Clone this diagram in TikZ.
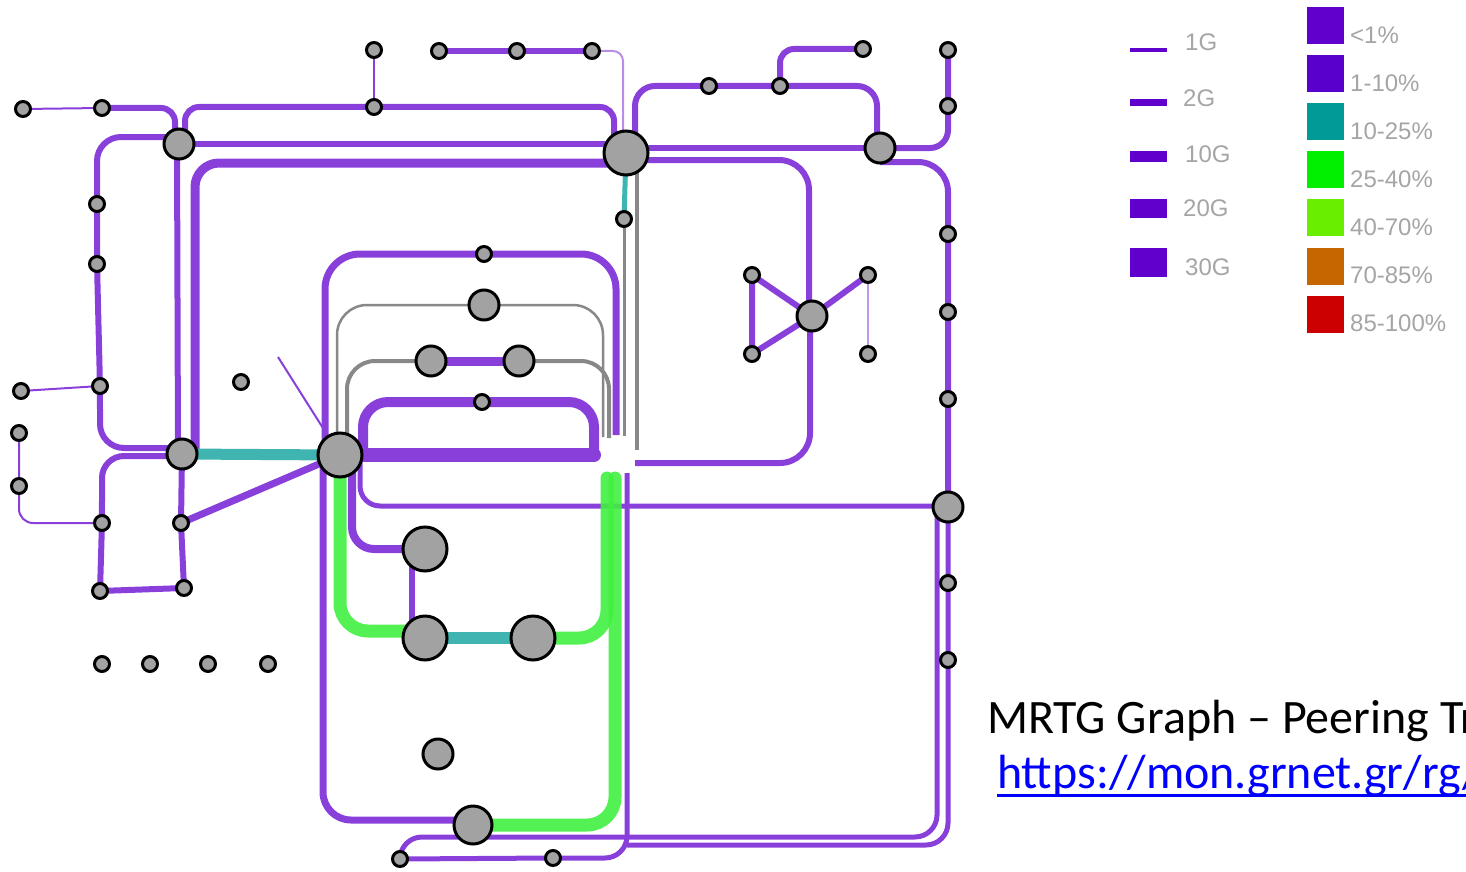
\documentclass[tikz,border=0pt]{standalone}
\usepackage{fontspec}
\setmainfont{Liberation Sans}
\newfontfamily\calib{Carlito}
\usetikzlibrary{calc}
\pgfdeclarelayer{bg}
\pgfsetlayers{bg,main}
\definecolor{lp}{RGB}{137,64,219}
\definecolor{tl}{RGB}{64,180,176}
\definecolor{gnl}{RGB}{64,240,64}
\definecolor{gyl}{RGB}{136,136,136}
\definecolor{nf}{RGB}{162,162,162}
\definecolor{lgp}{RGB}{96,0,204}
\definecolor{lgp2}{RGB}{90,0,204}
\definecolor{lgt}{RGB}{0,155,150}
\definecolor{lgg}{RGB}{0,240,0}
\definecolor{lgl}{RGB}{106,238,0}
\definecolor{lgo}{RGB}{198,102,0}
\definecolor{lgr}{RGB}{204,0,0}
\definecolor{legtext}{RGB}{165,165,165}
\definecolor{linkblue}{RGB}{0,0,255}
\begin{document}
\begin{tikzpicture}[x=1pt,y=-1pt,
  sn/.style={circle,draw=black,fill=nf,line width=3pt,minimum size=15pt,inner sep=0pt},
  mn/.style={circle,draw=black,fill=nf,line width=3pt,minimum size=30pt,inner sep=0pt},
  bn/.style={circle,draw=black,fill=nf,line width=3pt,minimum size=44pt,inner sep=0pt},
  pl/.style={draw=lp,line width=#1},
  thin/.style={draw=lp,line width=2pt},
  gline/.style={draw=gyl,line width=#1},
  grn/.style={draw=gnl,line width=13pt,line cap=round,opacity=0.9},
  tline/.style={draw=tl,line width=#1},
  bar/.style={fill=#1,draw=none,inner sep=0pt,minimum width=37pt},
  sq/.style={fill=#1,draw=none,inner sep=0pt,minimum width=37pt,minimum height=37pt},
  lt/.style={anchor=west,inner sep=0pt,text=legtext,font=\fontsize{24}{24}\selectfont}
]
\useasboundingbox (0,0) rectangle (1466,872);
\clip (0,0) rectangle (1466,872);

% ---------- nodes ----------
\node[sn] (n1) at (23,109) {};
\node[sn] (n2) at (102,108) {};
\node[sn] (n3) at (374,50) {};
\node[sn] (n4) at (374,107) {};
\node[sn] (n5) at (439,51) {};
\node[sn] (n6) at (517,51) {};
\node[sn] (n7) at (592,51) {};
\node[sn] (n8) at (709,86) {};
\node[sn] (n9) at (780,86) {};
\node[sn] (n10) at (863,49) {};
\node[sn] (n11) at (948,50) {};
\node[sn] (n12) at (948,106) {};
\node[sn] (n13) at (97,204) {};
\node[sn] (n14) at (97,264) {};
\node[sn] (n15) at (624,219) {};
\node[sn] (n16) at (484,254) {};
\node[sn] (n17) at (948,234) {};
\node[sn] (n18) at (948,312) {};
\node[sn] (n19) at (948,399) {};
\node[sn] (n20) at (752,275) {};
\node[sn] (n21) at (868,275) {};
\node[sn] (n22) at (752,354) {};
\node[sn] (n23) at (868,354) {};
\node[sn] (n24) at (241,382) {};
\node[sn] (n25) at (21,391) {};
\node[sn] (n26) at (100,386) {};
\node[sn] (n27) at (19,433) {};
\node[sn] (n28) at (19,486) {};
\node[sn] (n29) at (102,523) {};
\node[sn] (n30) at (181,523) {};
\node[sn] (n31) at (100,591) {};
\node[sn] (n32) at (184,588) {};
\node[sn] (n33) at (482,402) {};
\node[sn] (n34) at (948,583) {};
\node[sn] (n35) at (948,660) {};
\node[sn] (d1) at (102,664) {};
\node[sn] (d2) at (150,664) {};
\node[sn] (d3) at (208,664) {};
\node[sn] (d4) at (268,664) {};
\node[sn] (n40) at (400,859) {};
\node[sn] (n41) at (553,858) {};

\node[mn] (B1) at (179,144) {};
\node[bn] (B2) at (626,153) {};
\node[mn] (B3) at (880,148) {};
\node[mn] (B4) at (484,305) {};
\node[mn] (B5) at (431,361) {};
\node[mn] (B6) at (519,361) {};
\node[mn] (B7) at (812,316) {};
\node[mn] (B8) at (182,454) {};
\node[bn] (B9) at (340,455) {};
\node[bn] (B10) at (425,549) {};
\node[bn] (B11) at (425,638) {};
\node[bn] (B12) at (533,638) {};
\node[mn] (B13) at (948,507) {};
\node[mn] (B14) at (438,754) {};
\node[circle,draw=black,fill=nf,line width=3pt,minimum size=38pt,inner sep=0pt] (B15) at (473,825) {};

\coordinate (hP) at (594,455);
\coordinate (hO) at (616,435);
\coordinate (hG1) at (603,437);
\coordinate (hG2) at (609,438);
\coordinate (hG3) at (624,436);
\coordinate (hG4) at (637,450);
\coordinate (hR) at (635,463);
\coordinate (hGr1) at (607,478);
\coordinate (hGr2) at (615,478);
\coordinate (hV) at (627,473);
\coordinate (bj) at (627,845);
\coordinate (dg) at (278,357);

% ---------- connectors ----------
\begin{pgfonlayer}{bg}
% left region
\draw[thin] (n1.center) -- (n2.center);
\draw[pl=6pt,rounded corners=14pt] (n2.center) -| ($(B1.center)+(-4,0)$);
\draw[pl=6pt,rounded corners=14pt] ($(B1.center)+(6,0)$) |- (n4.center) -| ($(B2.center)+(-12,0)$);
\draw[pl=6pt] (B1.center) -- (B2.center |- B1.center);
\draw[pl=9pt,rounded corners=24pt] ($(B2.center)+(0,10)$) -| ($(B8.center)+(13,0)$);
\draw[pl=6pt] ($(B1.center)+(-2,0)$) -- ($(B8.center)+(-4,0)$);
\draw[pl=6pt,rounded corners=24pt] ($(B1.center)+(0,-7)$) -| (n13.center) -- (n14.center) -- (n26.center) |- ($(B8.center)+(0,-6)$);
\draw[pl=6pt,rounded corners=22pt] ($(B8.center)+(0,2)$) -| (n29.center) -- (n31.center);
\draw[pl=6pt] (n31.center) -- (n32.center) -- (n30.center) -- (B8.center);
\draw[thin] (n25.center) -- (n26.center);
\draw[thin,rounded corners=14pt] (n27.center) -- (n28.center) |- (n29.center);
\draw[tline=11pt] (B8.center) -- (B9.center);
\draw[pl=7pt] (n30.center) -- (B9.center);
\draw[thin] (dg) -- (B9.center);

% top region
\draw[thin] (n3.center) -- (n4.center);
\draw[pl=6pt] (n5.center) -- (n6.center) -- (n7.center);
\draw[thin,opacity=0.6,rounded corners=10pt] (n7.center) -| ($(B2.center)+(-3,0)$);
\draw[pl=6pt,rounded corners=20pt] ($(B2.center)+(9,0)$) |- (n8.center) -- (n9.center) -| ($(B3.center)+(-3,0)$);
\draw[pl=6pt,rounded corners=14pt] (n9.center) |- (n10.center);
\draw[pl=6pt] (B2.center |- B3.center) -- (B3.center);
\draw[pl=6pt,rounded corners=18pt] (B3.center) -| (n12.center) -- (n11.center);
\draw[pl=6pt,rounded corners=30pt] ($(B2.center)+(0,7)$) -| ($(B7.center)+(-3,0)$);
\draw[pl=6pt,rounded corners=30pt] ($(B7.center)+(-2,0)$) |- (hR);
\draw[pl=6pt,rounded corners=30pt] ($(B3.center)+(0,14)$) -| (n17.center) -- (n18.center) -- (n19.center) -- (B13.center);
\draw[pl=6pt] (n20.center) -- (B7.center) -- (n22.center) -- (n20.center);
\draw[pl=6pt] (B7.center) -- (n21.center);
\draw[thin,opacity=0.55] (n21.center) -- (n23.center);
\draw[tline=5pt] (B2.center) -- (n15.center);
\draw[gline=3pt] (n15.center) -- (hG3);
\draw[gline=3.5pt] ($(B2.center)+(11,0)$) -- (hG4);

% centre region
\draw[pl=7pt,rounded corners=35pt] ($(B9.center)+(-15,0)$) |- (n16.center) -| (hO);
\draw[gline=2.5pt,rounded corners=30pt] ($(B9.center)+(-3,0)$) |- (B4.center) -| (hG1);
\draw[gline=4pt,rounded corners=28pt] ($(B9.center)+(7,0)$) |- (B5.center);
\draw[gline=4pt,rounded corners=28pt] (B6.center) -| (hG2);
\draw[pl=9pt] (B5.center) -- (B6.center);
\draw[pl=10pt,rounded corners=25pt] ($(B9.center)+(23,0)$) |- (n33.center) -| (hP);
\draw[pl=14pt,line cap=round] (B9.center) -- (hP);

% lower region
\draw[pl=5pt,rounded corners=20pt] ($(B9.center)+(20,0)$) |- ($(B13.center)+(0,-1)$);
\draw[pl=8pt,rounded corners=22pt] ($(B9.center)+(12,0)$) |- (B10.center);
\draw[pl=6pt] ($(B10.center)+(-13,0)$) -- ($(B11.center)+(-13,0)$);
\draw[pl=7pt,rounded corners=28pt] ($(B9.center)+(-17,0)$) |- ($(B15.center)+(0,-5)$);
\draw[pl=5pt,rounded corners=22pt] (n40.center) |- ($(B13.center)+(-11,330)$) -- ($(B13.center)+(-11,0)$);
\draw[pl=5pt,rounded corners=22pt] (B13.center) -- (n34.center) -- (n35.center) |- (bj);
\draw[pl=5pt,rounded corners=22pt] (hV) |- (n41.center) -- (n40.center);
\draw[grn,rounded corners=28pt] (B9.center) |- ($(B11.center)+(0,-7)$);
\draw[grn,rounded corners=28pt] (B12.center) -| (hGr1);
\draw[grn,rounded corners=28pt] (B15.center) -| (hGr2);
\draw[tline=12pt] (B11.center) -- (B12.center);
\end{pgfonlayer}

% ---------- legend ----------
\node[bar=lgp,minimum height=4pt] (lb1) at (1148.5,50) {};
\node[bar=lgp,minimum height=7pt] (lb2) at (1148.5,103) {};
\node[bar=lgp,minimum height=11pt] (lb3) at (1148.5,156) {};
\node[bar=lgp,minimum height=19pt] (lb4) at (1148.5,208) {};
\node[bar=lgp,minimum height=29pt] (lb5) at (1148.5,262) {};
\node[lt] (lbt1) at (1185,42) {1G};
\node[lt] (lbt2) at (1183,98) {2G};
\node[lt] (lbt3) at (1185,154) {10G};
\node[lt] (lbt4) at (1183,208) {20G};
\node[lt] (lbt5) at (1185,267) {30G};

\node[sq=lgp] (s1) at (1325.5,25.5) {};
\node[sq=lgp2] (s2) at (1325.5,73.5) {};
\node[sq=lgt] (s3) at (1325.5,121.5) {};
\node[sq=lgg] (s4) at (1325.5,169.5) {};
\node[sq=lgl] (s5) at (1325.5,217.5) {};
\node[sq=lgo] (s6) at (1325.5,266) {};
\node[sq=lgr] (s7) at (1325.5,314.5) {};
\node[lt] (st1) at (1350,35) {<1\%};
\node[lt] (st2) at (1350,83) {1-10\%};
\node[lt] (st3) at (1350,131) {10-25\%};
\node[lt] (st4) at (1350,179) {25-40\%};
\node[lt] (st5) at (1350,227) {40-70\%};
\node[lt] (st6) at (1350,275) {70-85\%};
\node[lt] (st7) at (1350,323) {85-100\%};

% ---------- caption ----------
\node[anchor=base west,inner sep=0pt,font=\calib\fontsize{48}{52}\selectfont] (cap1) at (987,733) {MRTG Graph – Peering Tr};
\node[anchor=base west,inner sep=0pt,text=linkblue,font=\calib\fontsize{48}{52}\selectfont] (cap2) at (997,788) {https://mon.grnet.gr/rg/};
\draw[linkblue,line width=3pt] ($(cap2.base west)+(0,7)$) -- ($(cap2.base east)+(0,7)$);
\end{tikzpicture}
\end{document}
